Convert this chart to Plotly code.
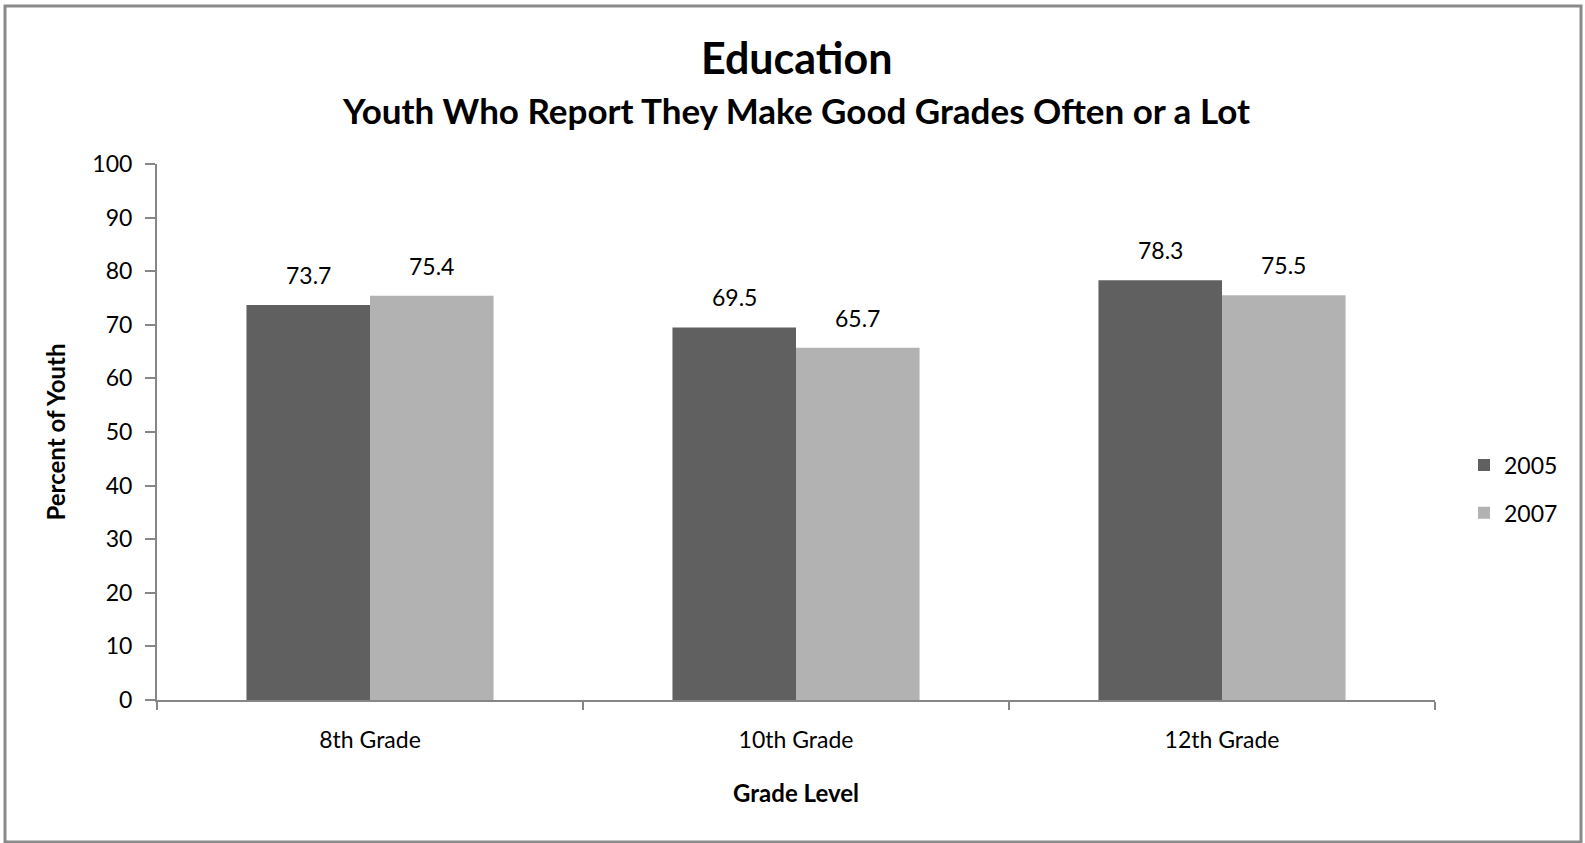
import plotly.graph_objects as go

# Chart data
grades = ["8th Grade", "10th Grade", "12th Grade"]
years = ["2005", "2007"]
pct_2005 = [73.7, 69.5, 78.3]
pct_2007 = [75.4, 65.7, 75.5]
y_ticks = [0, 10, 20, 30, 40, 50, 60, 70, 80, 90, 100]

series = [pct_2005, pct_2007]
colors = ["#606060", "#b2b2b2"]

W, H = 1585, 843
ML, MR, MT, MB = 157, 150, 164, 143
plot_w = W - ML - MR
plot_h = H - MT - MB
BARGAP = 0.42
cat_px = plot_w / len(grades)
bar_px = cat_px * (1 - BARGAP) / len(series)

FONT = "Lato, Calibri, sans-serif"
AXIS_GRAY = "#868686"


# convert figure-pixel positions to paper coordinates
def px_x(p):
    return (p - ML) / plot_w


def px_y(p):
    return (H - MB - p) / plot_h


fig = go.Figure()
for name, vals, col in zip(years, series, colors):
    fig.add_trace(go.Bar(
        x=grades, y=vals, name=name, legendgroup=name,
        marker=dict(color=col, line=dict(width=0)),
        hoverinfo="x+y+name",
    ))

# value labels above each bar
annotations = []
for i, vals in enumerate(series):
    shift = (i - (len(series) - 1) / 2) * bar_px
    for g, v in zip(grades, vals):
        annotations.append(dict(
            x=g, y=v, xref="x", yref="y", text=f"{v:.1f}",
            showarrow=False, xshift=shift, yshift=14, yanchor="bottom",
            font=dict(family=FONT, size=23, color="#000000"),
        ))

# titles
annotations.append(dict(
    x=0.5, y=px_y(57), xref="paper", yref="paper", xanchor="center", yanchor="middle",
    text="<b>Education</b>", showarrow=False,
    font=dict(family=FONT, size=43, color="#000000"),
))
annotations.append(dict(
    x=0.5, y=px_y(110), xref="paper", yref="paper", xanchor="center", yanchor="middle",
    text="<b>Youth Who Report They Make Good Grades Often or a Lot</b>", showarrow=False,
    font=dict(family=FONT, size=35, color="#000000"),
))

fig.update_layout(
    width=W, height=H,
    margin=dict(l=ML, r=MR, t=MT, b=MB, autoexpand=False),
    paper_bgcolor="#ffffff", plot_bgcolor="#ffffff",
    barmode="group", bargap=BARGAP, bargroupgap=0,
    font=dict(family=FONT, size=23, color="#000000"),
    showlegend=True,
    legend=dict(
        x=px_x(1464), y=px_y(489), xanchor="left", yanchor="middle",
        font=dict(family=FONT, size=23, color="#000000"),
        tracegroupgap=15, traceorder="grouped",
        bgcolor="rgba(0,0,0,0)",
    ),
    annotations=annotations,
    shapes=[dict(
        type="rect", xref="paper", yref="paper",
        x0=px_x(5), x1=px_x(1581), y0=px_y(842), y1=px_y(6),
        line=dict(color="#8a8a8a", width=3), fillcolor="rgba(0,0,0,0)", layer="below",
    )],
)

fig.update_xaxes(
    showline=True, linecolor=AXIS_GRAY, linewidth=2,
    ticks="outside", tickson="boundaries", ticklen=8, tickwidth=2, tickcolor=AXIS_GRAY,
    tickfont=dict(family=FONT, size=23, color="#000000"), ticklabelstandoff=18,
    showgrid=False, zeroline=False,
    title=dict(text="<b>Grade Level</b>", font=dict(family=FONT, size=24, color="#000000"), standoff=34),
)
fig.update_yaxes(
    range=[0, 100], tickvals=y_ticks,
    showline=True, linecolor=AXIS_GRAY, linewidth=2,
    ticks="outside", ticklen=10, tickwidth=2, tickcolor=AXIS_GRAY,
    tickfont=dict(family=FONT, size=23, color="#000000"), ticklabelstandoff=8,
    showgrid=False, zeroline=False,
    title=dict(text="<b>Percent of Youth</b>", font=dict(family=FONT, size=24, color="#000000"), standoff=20),
)

fig.write_html("out.html")
